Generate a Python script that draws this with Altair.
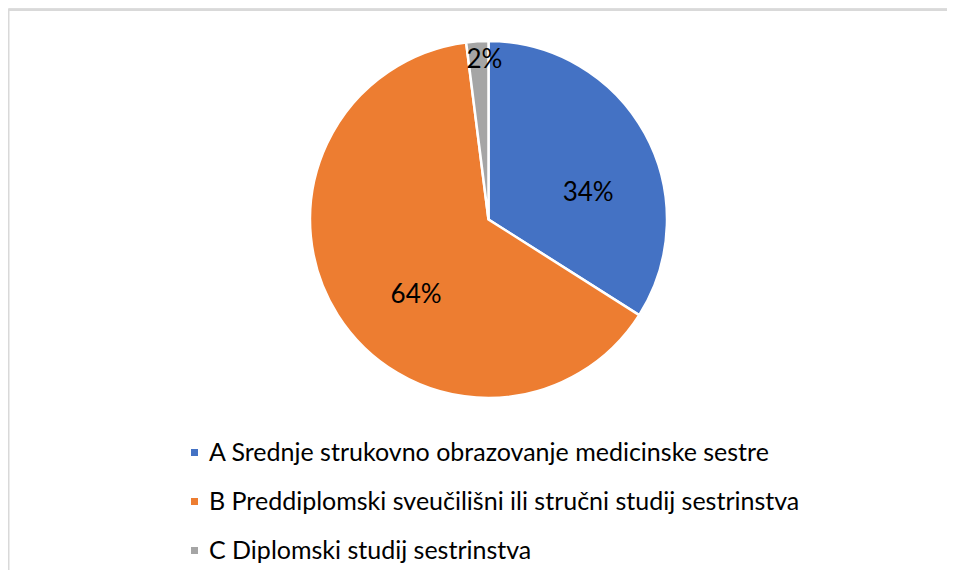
import altair as alt
import pandas as pd

categories = [
    "A Srednje strukovno obrazovanje medicinske sestre",
    "B Preddiplomski sveučilišni ili stručni studij sestrinstva",
    "C Diplomski studij sestrinstva",
]
values = [34, 64, 2]
labels = ["34%", "64%", "2%"]
colors = ["#4472C4", "#ED7D31", "#A5A5A5"]

df = pd.DataFrame({"cat": categories, "value": values, "label": labels, "ord": [0, 1, 2]})

W, H = 939, 562
CX, CY = 480.5, 211.5
FONT = "Lato"

base = alt.Chart(df).encode(
    theta=alt.Theta("value:Q", stack=True),
    order=alt.Order("ord:Q"),
    x=alt.value(CX),
    y=alt.value(CY),
)

pie = base.mark_arc(outerRadius=178.5, stroke="white", strokeWidth=2.5).encode(
    color=alt.Color(
        "cat:N",
        scale=alt.Scale(domain=categories, range=colors),
        legend=alt.Legend(
            title=None,
            orient="none",
            legendX=174,
            legendY=432,
            direction="vertical",
            symbolType="square",
            symbolSize=49,
            symbolStrokeWidth=0,
            labelFont=FONT,
            labelFontSize=25,
            labelColor="#000000",
            labelOffset=2,
            labelLimit=800,
            rowPadding=23,
            padding=0,
        ),
    )
)

text_main = base.mark_text(radius=100, dx=12, dy=22, font=FONT, fontSize=26, color="black").encode(
    text=alt.condition(alt.datum.ord < 2, "label:N", alt.value(""))
)
text_small = base.mark_text(radius=160, dx=6, font=FONT, fontSize=26, color="black").encode(
    text=alt.condition(alt.datum.ord == 2, "label:N", alt.value(""))
)

border_data = alt.Data(values=[{"k": 1}])
top_rule = alt.Chart(border_data).mark_rule(color="#d9d9d9", strokeWidth=2).encode(
    x=alt.value(0), x2=alt.value(W), y=alt.value(2)
)
left_rule = alt.Chart(border_data).mark_rule(color="#d9d9d9", strokeWidth=2).encode(
    x=alt.value(0.5), y=alt.value(1), y2=alt.value(H)
)

chart = (
    alt.layer(top_rule, left_rule, pie, text_main, text_small)
    .properties(width=W, height=H, autosize=alt.AutoSizeParams(type="none"), padding=0)
    .configure_view(strokeWidth=0)
    .configure(background="white")
)

chart.save("out.html", embed_options={"renderer": "svg", "actions": False})
